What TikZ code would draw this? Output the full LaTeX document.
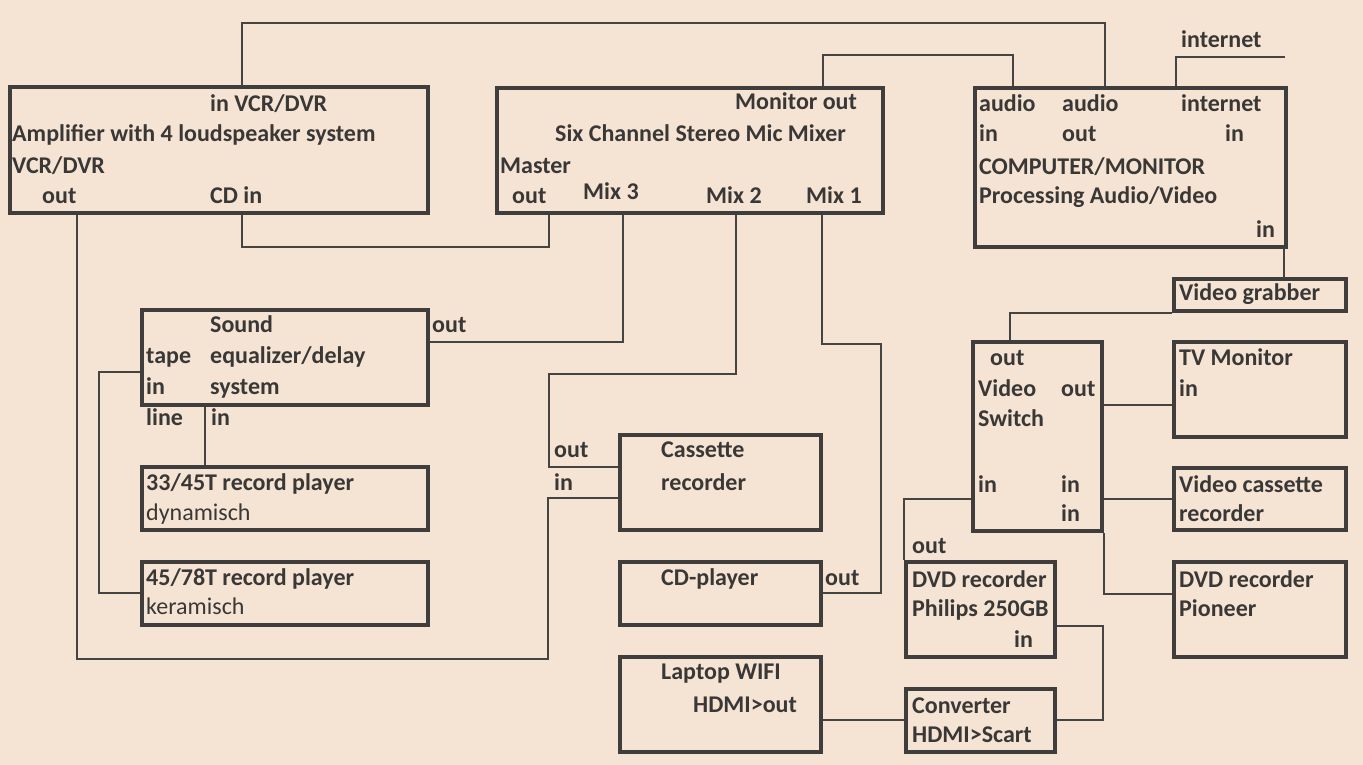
\documentclass[tikz,border=0pt]{standalone}
\usepackage{fontspec}
\setmainfont{Carlito}
\begin{document}
\begin{tikzpicture}[x=1pt,y=-1pt,
  box/.style={draw=boxc,line width=3.6pt,inner sep=0pt,rectangle},
  lbl/.style={anchor=base west,inner sep=0pt,text=txtc,font=\fontsize{24}{28}\selectfont\bfseries},
  lblr/.style={lbl,font=\fontsize{24}{28}\selectfont},
  wire/.style={draw=linec,line width=1.6pt}]
\definecolor{bgc}{RGB}{245,228,212}
\definecolor{boxc}{RGB}{64,62,60}
\definecolor{txtc}{RGB}{58,56,54}
\definecolor{linec}{RGB}{70,68,66}
\useasboundingbox (0,0) rectangle (1363,765);
\fill[bgc] (0,0) rectangle (1363,765);
% boxes: centre, width, height
\newcommand{\bx}[5]{\node[box,minimum width={(#4-#2)*1pt},minimum height={(#5-#3)*1pt}] (#1) at ({(#2+#4)/2},{(#3+#5)/2}) {};}
\bx{amp}{10}{87}{428}{213}
\bx{mix}{497}{88}{883}{213}
\bx{comp}{975}{88}{1286}{247}
\bx{grab}{1174}{279}{1346}{311}
\bx{snd}{142}{310}{428}{405}
\bx{rpa}{142}{467}{428}{530}
\bx{rpb}{142}{562}{428}{625}
\bx{cas}{620}{435}{821}{530}
\bx{cdp}{620}{562}{821}{625}
\bx{lap}{620}{657}{821}{752}
\bx{vsw}{973}{342}{1102}{531}
\bx{tv}{1174}{342}{1346}{437}
\bx{vcr}{1174}{468}{1346}{530}
\bx{dvdp}{906}{562}{1055}{657}
\bx{conv}{906}{689}{1055}{752}
\bx{pio}{1174}{562}{1346}{657}
\coordinate (inet) at (1285,57);
% connectors
\draw[wire] (amp.north -| 242,0) -- ++(0,-62) -| (comp.north -| 1105,0);
\draw[wire] (mix.north -| 823,0) -- ++(0,-31) -| (comp.north -| 1013,0);
\draw[wire] (comp.north -| 1176,0) |- (inet);
\draw[wire] (comp.south -| 1284,0) -- (grab.north -| 1284,0);
\draw[wire] (grab.south west) -| (vsw.north -| 1010,0);
\draw[wire] (vsw.east |- 0,405) -- (tv.west |- 0,405);
\draw[wire] (vsw.east |- 0,499) -- (vcr.west |- 0,499);
\draw[wire] (vsw.south east) |- (pio.west |- 0,594);
\draw[wire] (vsw.west |- 0,499) -| (dvdp.north west);
\draw[wire] (dvdp.east |- 0,626) -- ++(46,0) |- (conv.east |- 0,720);
\draw[wire] (lap.east |- 0,720) -- (conv.west |- 0,720);
\draw[wire] (amp.south -| 77,0) -- ++(0,444) -- ++(471,0) |- (cas.west |- 0,498);
\draw[wire] (amp.south -| 242,0) -- ++(0,32) -| (mix.south -| 549,0);
\draw[wire] (mix.south -| 623,0) |- (snd.east |- 0,342);
\draw[wire] (mix.south -| 736,0) -- ++(0,159) -- ++(-187,0) |- (cas.west |- 0,467);
\draw[wire] (mix.south -| 822,0) -- ++(0,129) -- ++(59,0) |- (cdp.east |- 0,593);
\draw[wire] (snd.west |- 0,372) -- ++(-41,0) |- (rpb.west |- 0,593);
\draw[wire] (snd.south -| 205,0) -- (rpa.north -| 205,0);
% texts
\node[lbl] (a1) at (210,112) {in VCR/DVR};
\node[lbl] (a2) at (12,142) {Amplifier with 4 loudspeaker system};
\node[lbl] (a3) at (12,173) {VCR/DVR};
\node[lbl] (a4) at (42,203) {out};
\node[lbl] (a5) at (210,203) {CD in};
\node[lbl] (m1) at (735,110) {Monitor out};
\node[lbl] (m2) at (555,142) {Six Channel Stereo Mic Mixer};
\node[lbl] (m3) at (500,173) {Master};
\node[lbl] (m4) at (512,203) {out};
\node[lbl] (m5) at (583,200) {Mix 3};
\node[lbl] (m6) at (706,203) {Mix 2};
\node[lbl] (m7) at (806,203) {Mix 1};
\node[lbl] (c1) at (979,112) {audio};
\node[lbl] (c2) at (1062,112) {audio};
\node[lbl] (c3) at (1181,112) {internet};
\node[lbl] (c4) at (979,142) {in};
\node[lbl] (c5) at (1062,142) {out};
\node[lbl] (c6) at (1225,142) {in};
\node[lbl] (c7) at (979,175) {COMPUTER/MONITOR};
\node[lbl] (c8) at (979,203) {Processing Audio/Video};
\node[lbl] (c9) at (1256,237) {in};
\node[lbl] (c10) at (1181,48) {internet};
\node[lbl] (g1) at (1179,300) {Video grabber};
\node[lbl] (s1) at (210,332) {Sound};
\node[lbl] (s2) at (146,363) {tape};
\node[lbl] (s3) at (210,363) {equalizer/delay};
\node[lbl] (s4) at (146,394) {in};
\node[lbl] (s5) at (210,394) {system};
\node[lbl] (s6) at (146,425) {line};
\node[lbl] (s7) at (211,425) {in};
\node[lbl] (s8) at (432,332) {out};
\node[lbl] (r1) at (146,490) {33/45T record player};
\node[lblr] (r2) at (146,520) {dynamisch};
\node[lbl] (r3) at (146,585) {45/78T record player};
\node[lblr] (r4) at (146,614) {keramisch};
\node[lbl] (k1) at (661,457) {Cassette};
\node[lbl] (k2) at (661,490) {recorder};
\node[lbl] (k3) at (554,457) {out};
\node[lbl] (k4) at (554,490) {in};
\node[lbl] (d1) at (661,585) {CD-player};
\node[lbl] (d2) at (825,585) {out};
\node[lbl] (l1) at (661,679) {Laptop WIFI};
\node[lbl] (l2) at (693,712) {HDMI>out};
\node[lbl] (v1) at (990,365) {out};
\node[lbl] (v2) at (978,396) {Video};
\node[lbl] (v3) at (1061,396) {out};
\node[lbl] (v4) at (978,426) {Switch};
\node[lbl] (v5) at (978,492) {in};
\node[lbl] (v6) at (1061,492) {in};
\node[lbl] (v7) at (1061,521) {in};
\node[lbl] (t1) at (1179,365) {TV Monitor};
\node[lbl] (t2) at (1179,396) {in};
\node[lbl] (e1) at (1179,492) {Video cassette};
\node[lbl] (e2) at (1179,521) {recorder};
\node[lbl] (p1) at (1179,587) {DVD recorder};
\node[lbl] (p2) at (1179,616) {Pioneer};
\node[lbl] (h1) at (912,553) {out};
\node[lbl] (h2) at (912,587) {DVD recorder};
\node[lbl] (h3) at (912,616) {Philips 250GB};
\node[lbl] (h4) at (1014,647) {in};
\node[lbl] (n1) at (912,713) {Converter};
\node[lbl] (n2) at (912,742) {HDMI>Scart};
\end{tikzpicture}
\end{document}
